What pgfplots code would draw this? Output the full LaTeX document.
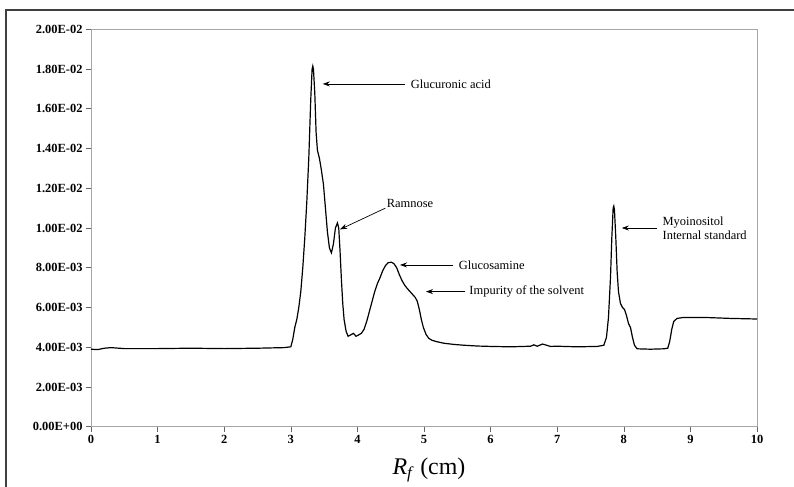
\documentclass[border=0pt]{standalone}
\usepackage{fontspec}
\setmainfont{Liberation Serif}
\usepackage{pgfplots}
\pgfplotsset{compat=1.18}
\usetikzlibrary{arrows.meta}
\pgfplotstableread{
x y
0.00 0.00390
0.10 0.00388
0.20 0.00395
0.30 0.00398
0.50 0.00393
1.00 0.00393
1.50 0.00395
2.00 0.00393
2.50 0.00395
2.90 0.00398
3.00 0.00402
3.03 0.00440
3.06 0.00500
3.09 0.00540
3.12 0.00600
3.15 0.00680
3.18 0.00800
3.21 0.00950
3.24 0.01130
3.27 0.01350
3.30 0.01650
3.32 0.01800
3.33 0.01815
3.34 0.01800
3.36 0.01680
3.38 0.01480
3.40 0.01390
3.43 0.01350
3.46 0.01290
3.49 0.01220
3.52 0.01100
3.55 0.00980
3.58 0.00900
3.61 0.00875
3.64 0.00920
3.67 0.01000
3.70 0.01025
3.72 0.01000
3.74 0.00880
3.76 0.00740
3.78 0.00620
3.80 0.00540
3.83 0.00480
3.86 0.00455
3.90 0.00462
3.94 0.00470
3.98 0.00455
4.02 0.00462
4.06 0.00470
4.10 0.00490
4.14 0.00530
4.18 0.00580
4.22 0.00630
4.26 0.00680
4.30 0.00720
4.34 0.00750
4.38 0.00785
4.42 0.00810
4.46 0.00825
4.51 0.00828
4.55 0.00820
4.59 0.00800
4.63 0.00765
4.67 0.00735
4.71 0.00712
4.75 0.00695
4.79 0.00680
4.83 0.00665
4.87 0.00650
4.90 0.00630
4.93 0.00590
4.96 0.00540
4.99 0.00500
5.03 0.00465
5.07 0.00445
5.12 0.00435
5.19 0.00428
5.30 0.00420
5.45 0.00414
5.60 0.00410
5.80 0.00406
6.00 0.00404
6.30 0.00402
6.60 0.00405
6.65 0.00412
6.70 0.00405
6.78 0.00416
6.82 0.00412
6.90 0.00404
7.00 0.00405
7.30 0.00402
7.60 0.00404
7.70 0.00410
7.74 0.00450
7.77 0.00550
7.80 0.00750
7.82 0.00950
7.84 0.01100
7.85 0.01110
7.86 0.01090
7.88 0.00950
7.90 0.00780
7.92 0.00680
7.95 0.00620
7.98 0.00600
8.01 0.00590
8.04 0.00560
8.07 0.00520
8.10 0.00500
8.13 0.00450
8.16 0.00410
8.20 0.00392
8.40 0.00390
8.60 0.00392
8.66 0.00395
8.69 0.00430
8.72 0.00490
8.75 0.00530
8.80 0.00545
8.90 0.00550
9.20 0.00550
9.60 0.00545
10.00 0.00542
}\chromdata
\begin{document}
\begin{tikzpicture}
\path[use as bounding box] (0bp,0bp) rectangle (794bp,487bp);
\draw[line width=1.5bp, black!75] (6bp,-5bp) -- (6bp,477bp) -- (800bp,477bp);
\begin{axis}[
  at={(91bp,60.3bp)}, anchor=south west,
  scale only axis, width=666bp, height=397.4bp,
  xmin=0, xmax=10, ymin=0, ymax=0.02,
  xtick={0,1,2,3,4,5,6,7,8,9,10},
  xticklabels={0,1,2,3,4,5,6,7,8,9,10},
  ytick={0,0.002,0.004,0.006,0.008,0.010,0.012,0.014,0.016,0.018,0.020},
  yticklabels={0.00E+00,2.00E-03,4.00E-03,6.00E-03,8.00E-03,1.00E-02,1.20E-02,1.40E-02,1.60E-02,1.80E-02,2.00E-02},
  scaled x ticks=false, scaled y ticks=false,
  tick align=outside, xtick pos=left, ytick pos=left,
  major tick length=5bp,
  tick style={gray!80!black, line width=0.6bp},
  axis line style={gray!70, line width=0.8bp},
  ticklabel style={font=\fontsize{12.5}{14}\selectfont\bfseries},
  xlabel={\fontsize{24}{28}\selectfont\textit{R}\textsubscript{\textit{f}} (cm)},
  xlabel style={at={(axis description cs:0.5,0)}, anchor=center, yshift=-43bp, xshift=5bp},
  clip=false,
]
\addplot[black, line width=1.2bp] table[x=x,y=y] {\chromdata};
\tikzset{ann/.style={anchor=west, font=\fontsize{12.5}{14}\selectfont, inner sep=0pt},
         arr/.style={-{Stealth[length=7bp,width=5bp]}, line width=0.7bp}}
\draw[arr] (axis cs:4.71,0.01725) -- (axis cs:3.48,0.01725);
\node[ann] at (axis cs:4.80,0.01725) {Glucuronic acid};
\draw[arr] (axis cs:4.42,0.0110) -- (axis cs:3.74,0.00993);
\node[ann] at (axis cs:4.44,0.01124) {Ramnose};
\draw[arr] (axis cs:5.44,0.00814) -- (axis cs:4.64,0.00814);
\node[ann] at (axis cs:5.52,0.00814) {Glucosamine};
\draw[arr] (axis cs:5.61,0.0068) -- (axis cs:5.03,0.0068);
\node[ann] at (axis cs:5.68,0.0068) {Impurity of the solvent};
\draw[arr] (axis cs:8.50,0.0100) -- (axis cs:7.97,0.0100);
\node[ann, align=left] at (axis cs:8.58,0.0100) {Myoinositol\\Internal standard};
\end{axis}
\end{tikzpicture}
\end{document}
